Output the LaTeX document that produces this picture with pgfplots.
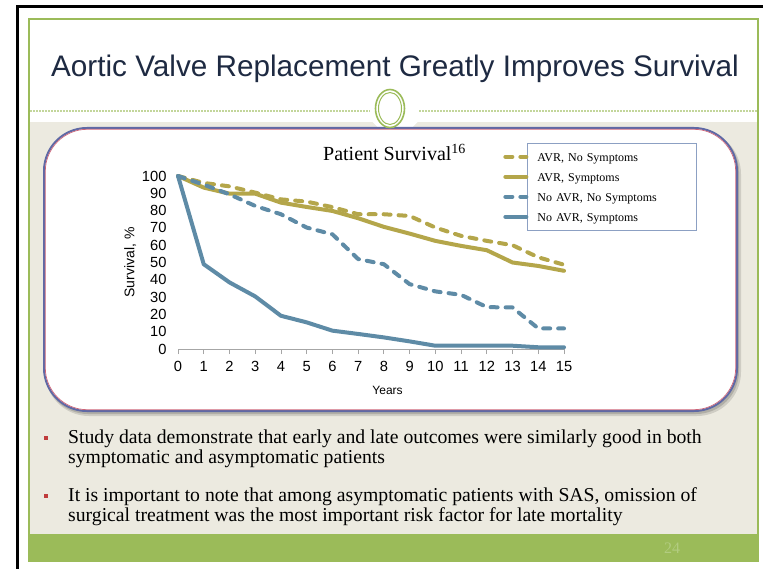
\documentclass[border=0pt]{standalone}
\usepackage{fontspec}
\setmainfont{Liberation Serif}
\setsansfont{Liberation Sans}
\usepackage{pgfplots}
\pgfplotsset{compat=1.18}
\definecolor{gold}{RGB}{180,166,74}
\definecolor{sblue}{RGB}{94,139,166}
\definecolor{slidegreen}{RGB}{155,187,89}
\definecolor{beige}{RGB}{236,234,224}
\definecolor{titlenavy}{RGB}{30,42,66}
\definecolor{dotgreen}{RGB}{195,214,155}
\definecolor{boxblue}{RGB}{95,105,165}
\definecolor{boxred}{RGB}{205,100,120}
\definecolor{bulletred}{RGB}{192,60,60}
\definecolor{numgreen}{RGB}{178,204,128}
\definecolor{legborder}{RGB}{140,160,195}

\pgfplotstableread{
x avrns avrs noavrns noavrs
0 100 100 100 100
1 96 93.3 95 49
2 94 89.8 89.4 38.5
3 90.4 89.8 82.7 30.4
4 86.5 84.6 77.9 19.2
5 85.2 82.1 70.2 15.4
6 82 79.8 66.3 10.6
7 77.9 75.6 52 8.7
8 77.9 70.6 49 6.7
9 76.9 66.7 37.5 4.4
10 70.2 62.5 33.3 1.9
11 65.4 59.6 31.3 2
12 62.5 57.1 24.2 2
13 60 50 24 1.9
14 53 48 11.9 1
15 48.7 45.2 11.9 1
}\survdata

\begin{document}
\begin{tikzpicture}
\begin{scope}[x=1pt,y=-1pt]
\useasboundingbox (0,0) rectangle (763,569);
\fill[white] (0,0) rectangle (763,569);
% black frame
\fill[black] (16,5) rectangle (763,8);
\fill[black] (16,5) rectangle (19,569);
% beige area and green bar
\fill[beige] (29,122) rectangle (758,534);
\fill[slidegreen] (29,534) rectangle (758,561);
\draw[slidegreen, line width=1.2pt] (29,19) rectangle (758,561);
% dotted separator
\draw[dotgreen, line width=1.5pt, dash pattern=on 2pt off 1pt] (30,111) -- (370,111);
\draw[dotgreen, line width=1.5pt, dash pattern=on 2pt off 1pt] (419,111) -- (757,111);
\fill[white] (372,121.5) -- (418,121.5) -- (411,128.5) -- (379,128.5) -- cycle;
% rounded box with shadow
\fill[black, opacity=0.12, rounded corners=44pt] (45,130) rectangle (741,416);
\fill[black, opacity=0.15, rounded corners=43pt] (45,129) rectangle (739,414);
\fill[white, rounded corners=43pt] (44,128) rectangle (737,411);
\draw[boxblue, line width=2pt, rounded corners=43pt] (44,128) rectangle (737,411);
\draw[boxred, line width=0.7pt, rounded corners=42pt] (45.3,129.3) rectangle (735.7,409.7);
% ring ornament
\fill[white] (390,108.5) ellipse [x radius=15pt, y radius=19.5pt];
\draw[slidegreen, line width=1.6pt] (390,108.5) ellipse [x radius=14.5pt, y radius=19pt];
\draw[slidegreen, line width=1pt] (390,108.5) ellipse [x radius=11.5pt, y radius=16pt];
% title
\node[font=\sffamily\fontsize{29.7}{32}\selectfont, text=titlenavy] at (395,69) {Aortic Valve Replacement Greatly Improves Survival};
% bullets
\fill[bulletred] (44,436) rectangle (48,440);
\fill[bulletred] (44,494) rectangle (48,498);
\node[anchor=base west, inner sep=0pt, font=\fontsize{19.7}{22}\selectfont] at (68,443) {Study data demonstrate that early and late outcomes were similarly good in both};
\node[anchor=base west, inner sep=0pt, font=\fontsize{19.7}{22}\selectfont] at (68,463) {symptomatic and asymptomatic patients};
\node[anchor=base west, inner sep=0pt, font=\fontsize{19.7}{22}\selectfont] at (68,501) {It is important to note that among asymptomatic patients with SAS, omission of};
\node[anchor=base west, inner sep=0pt, font=\fontsize{19.7}{22}\selectfont] at (68,521) {surgical treatment was the most important risk factor for late mortality};
\node[text=numgreen, font=\fontsize{16}{18}\selectfont] at (672,548) {24};
\end{scope}

\begin{axis}[
  at={(178pt,-349pt)}, anchor=south west,
  scale only axis, width=386pt, height=173pt,
  xmin=0, xmax=15, ymin=0, ymax=100,
  xtick={0,1,...,15}, ytick={0,10,...,100},
  axis x line*=bottom, axis y line*=left,
  y axis line style={draw=none},
  x axis line style={draw=gray!70, line width=0.8pt},
  ytick style={draw=none},
  xtick style={draw=gray!70, line width=0.8pt},
  tick align=outside, major tick length=5pt,
  ticklabel style={font=\sffamily\fontsize{14.7}{16}\selectfont},
  yticklabel style={xshift=-3pt},
  xticklabel style={yshift=-4pt},
  /pgf/number format/assume math mode=true,
  xlabel={Years},
  xlabel style={font=\sffamily\fontsize{12}{14}\selectfont, at={(axis description cs:0.543,-0.237)}, anchor=center},
  ylabel={Survival, \%},
  ylabel style={font=\sffamily\fontsize{14}{16}\selectfont, at={(axis description cs:-0.124,0.5)}, anchor=center},
  title={Patient Survival\textsuperscript{16}},
  title style={font=\fontsize{20}{22}\selectfont, at={(axis description cs:0.561,1.10)}, anchor=center},
  legend cell align=left,
  legend image code/.code={\draw[#1,overlay] (-30pt,0pt) -- (-9pt,0pt); \path (0pt,0pt);},
  legend style={at={(axis description cs:0.904,1.191)}, anchor=north west,
    draw=legborder, line width=0.8pt, fill=white, inner xsep=6pt, inner ysep=6pt,
    row sep=5pt, column sep=0pt,
    font=\fontsize{12}{13}\selectfont,
    nodes={inner xsep=0pt, inner ysep=0pt, text height=12pt, text depth=3pt, text width=153pt}},
  every axis plot/.append style={line width=4pt, line join=round, line cap=round},
  clip=false,
]
\addplot[gold, dash pattern=on 7pt off 8pt] table[x=x, y=avrns] {\survdata};
\addlegendentry{AVR, No Symptoms}
\addplot[gold] table[x=x, y=avrs] {\survdata};
\addlegendentry{AVR, Symptoms}
\addplot[sblue, dash pattern=on 7pt off 8pt] table[x=x, y=noavrns] {\survdata};
\addlegendentry{No AVR, No Symptoms}
\addplot[sblue] table[x=x, y=noavrs] {\survdata};
\addlegendentry{No AVR, Symptoms}
\end{axis}
\end{tikzpicture}
\end{document}
